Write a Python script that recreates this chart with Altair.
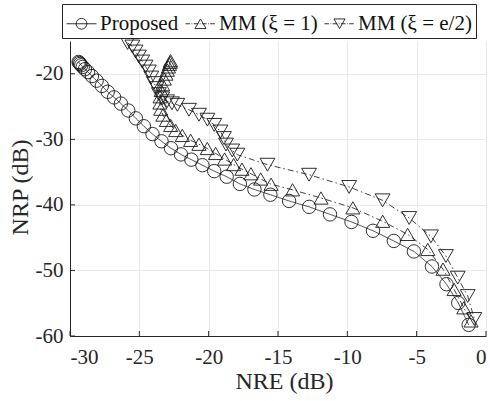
import altair as alt
import pandas as pd

# ---------------- data ----------------
names = ["Proposed", "MM (ξ = 1)", "MM (ξ = e/2)"]

prop_x = [-29.38, -29.33, -29.27, -29.19, -29.08, -28.92, -28.70, -28.42, -28.08, -27.70,
          -27.28, -26.82, -26.33, -25.80, -25.25, -24.67, -24.05, -23.40, -22.72, -22.00,
          -21.25, -20.45, -19.60, -18.70, -17.75, -16.70, -15.55, -14.20, -12.75, -11.25,
          -9.70, -8.15, -6.65, -5.20, -3.90, -2.85, -2.00, -1.25]
prop_y = [-18.20, -18.35, -18.50, -18.70, -18.95, -19.30, -19.75, -20.35, -21.05, -21.85,
          -22.75, -23.60, -24.55, -25.60, -26.80, -28.00, -29.20, -30.30, -31.35, -32.30,
          -33.10, -33.95, -34.85, -35.70, -36.80, -37.65, -38.45, -39.40, -40.30, -41.45,
          -42.60, -43.95, -45.50, -47.10, -49.40, -52.10, -54.95, -58.30]

mm1_x = [-22.75, -22.78, -22.83, -22.90, -22.98, -23.08, -23.20, -23.32, -23.43, -23.50,
         -23.52, -23.46, -23.30, -23.05, -22.74, -22.38, -21.90, -21.30, -20.70, -20.10,
         -19.50, -18.85, -18.20, -17.60, -16.95, -16.25, -15.50, -13.95, -11.90, -9.60,
         -7.45, -5.65, -4.20, -3.10, -2.30, -1.60, -1.08]
mm1_y = [-18.00, -18.25, -18.55, -18.95, -19.45, -20.05, -20.80, -21.65, -22.55, -23.50,
         -24.45, -25.40, -26.30, -27.10, -27.88, -28.65, -29.40, -30.15, -30.75, -31.40,
         -32.15, -33.00, -33.85, -34.55, -35.25, -36.05, -36.85, -37.70, -38.95, -40.45,
         -42.50, -44.50, -46.80, -49.80, -52.90, -55.70, -57.70]

mm2_x = [-25.85, -25.50, -25.27, -25.03, -24.79, -24.55, -24.31, -24.14, -23.95, -23.75,
         -23.59, -23.35, -23.00, -22.65, -22.26, -21.42, -20.70, -20.09, -19.60, -19.15,
         -18.90, -18.75, -18.30, -17.93, -15.76, -12.76, -9.87, -7.46, -5.54, -3.97,
         -2.89, -2.04, -1.32, -0.84]
mm2_y = [-15.30, -15.84, -16.60, -17.37, -18.13, -18.90, -19.65, -20.57, -21.42, -22.18,
         -23.10, -23.75, -24.20, -24.50, -24.73, -25.49, -26.25, -27.00, -27.80, -28.80,
         -29.80, -30.80, -31.70, -32.34, -33.87, -35.40, -37.26, -39.30, -42.00, -44.80,
         -47.80, -51.10, -53.90, -57.40]

x_ticks = [-30, -25, -20, -15, -10, -5, 0]
y_ticks = [-60, -50, -40, -30, -20]

# ---------------- tables ----------------
rows = []
for nm, xs, ys in zip(names, [prop_x, mm1_x, mm2_x], [prop_y, mm1_y, mm2_y]):
    for i, (a, b) in enumerate(zip(xs, ys)):
        rows.append({"series": nm, "nre": a, "nrp": b, "idx": i})
df = pd.DataFrame(rows)
xt = pd.DataFrame({"nre": x_ticks})
yt = pd.DataFrame({"nrp": y_ticks})
leg = pd.DataFrame({"series": names})

W, H = 416, 295
FONT = "Liberation Serif"
INK = "#262626"

xsc = alt.Scale(domain=[-30, 0], nice=False, zero=False)
ysc = alt.Scale(domain=[-60, -15], nice=False, zero=False)

xaxis = alt.Axis(values=x_ticks, labelExpr="'' + datum.value", grid=True, ticks=False,
                 labelPadding=10, labelFontSize=21, titleFontSize=24,
                 labelFont=FONT, titleFont=FONT,
                 titleX=214, titleY=52, titleBaseline="alphabetic", titleFontWeight="normal")
yaxis = alt.Axis(values=y_ticks, labelExpr="'' + datum.value", grid=True, ticks=False,
                 labelPadding=7, labelFontSize=21, titleFontSize=24,
                 labelFont=FONT, titleFont=FONT,
                 titleX=-43, titleY=146, titleBaseline="alphabetic", titleAlign="center",
                 titleAngle=270, titleFontWeight="normal")

X = alt.X("nre:Q", scale=xsc, axis=xaxis, title="NRE (dB)")
Y = alt.Y("nrp:Q", scale=ysc, axis=yaxis, title="NRP (dB)")

lines = alt.Chart(df).mark_line(strokeWidth=0.8, color="#111111", clip=True).encode(
    x=X, y=Y,
    strokeDash=alt.StrokeDash("series:N", scale=alt.Scale(domain=names,
                              range=[[1, 0], [6, 3, 1.5, 3], [6, 3, 1.5, 3]]), legend=None),
    order="idx:Q",
)

points = alt.Chart(df).mark_point(filled=False, strokeWidth=0.9, color="#1a1a1a", opacity=1).encode(
    x=X, y=Y,
    shape=alt.Shape("series:N", scale=alt.Scale(domain=names,
                    range=["circle", "triangle-up", "triangle-down"]), legend=None),
    size=alt.Size("series:N", scale=alt.Scale(domain=names, range=[180, 220, 220]), legend=None),
)

dashdot = "M-1,0H-0.7M-0.6,0H-0.55M-0.45,0H-0.15M-0.05,0H0M0.1,0H0.4M0.5,0H0.55M0.65,0H0.95"
leg_paths = [
    "M-1,0H1M0.36,0A0.36,0.36 0 1,1 -0.36,0A0.36,0.36 0 1,1 0.36,0Z",
    dashdot + "M0,-0.32L0.37,0.32L-0.37,0.32Z",
    dashdot + "M0,0.32L0.37,-0.32L-0.37,-0.32Z",
]

legend_layer = alt.Chart(leg).mark_point(filled=False, opacity=0).encode(
    shape=alt.Shape("series:N", scale=alt.Scale(domain=names, range=leg_paths),
                    legend=alt.Legend(title=None, orient="none", direction="horizontal",
                                      legendX=-8, legendY=-37,
                                      symbolSize=900, symbolOpacity=1,
                                      symbolStrokeColor="#1a1a1a", symbolStrokeWidth=0.9,
                                      symbolFillColor="transparent",
                                      labelFontSize=21, labelFont=FONT, labelColor="#111111",
                                      labelOffset=3, columnPadding=4,
                                      padding=4, strokeColor=INK, fillColor="white")),
)

xtick_layer = alt.Chart(xt).mark_rule(color=INK, strokeWidth=1).encode(
    x=alt.X("nre:Q", scale=xsc), y=alt.value(H), y2=alt.value(H - 5))
ytick_layer = alt.Chart(yt).mark_rule(color=INK, strokeWidth=1).encode(
    y=alt.Y("nrp:Q", scale=ysc), x=alt.value(0), x2=alt.value(5))

chart = alt.layer(lines, points, xtick_layer, ytick_layer, legend_layer).resolve_scale(
    shape="independent"
).properties(
    width=W, height=H,
    autosize=alt.AutoSizeParams(type="none"),
    padding={"left": 70, "top": 41, "right": 4, "bottom": 65},
    background="white",
).configure(font=FONT).configure_view(strokeWidth=0).configure_axis(
    domainColor=INK, domainWidth=1, gridColor="#e4e4e4", gridWidth=0.8,
    labelColor=INK, titleColor=INK, labelFont=FONT, titleFont=FONT,
)

chart.save("out.html", embed_options={"renderer": "svg", "actions": False})
